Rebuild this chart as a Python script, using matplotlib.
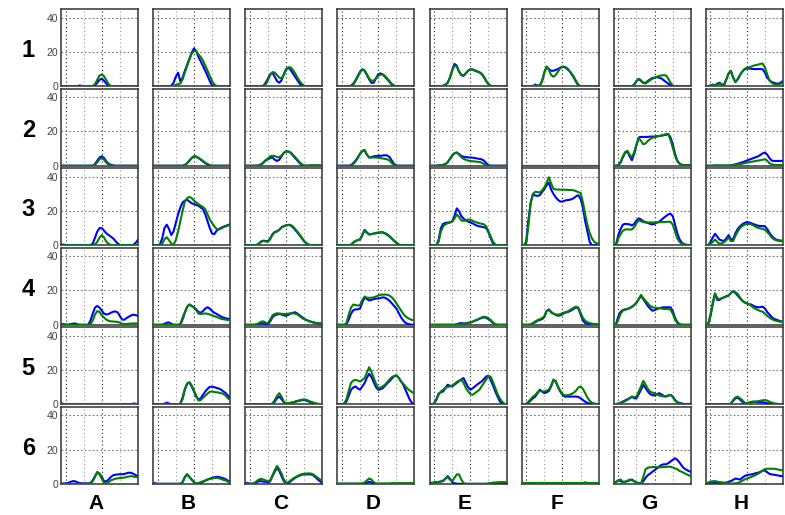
"""6 x 8 grid of blue/green profile panels (rows 1-6, columns A-H)."""
import numpy as np
import matplotlib
matplotlib.use("Agg")
import matplotlib.pyplot as plt

plt.rcParams.update({"font.family": ["Liberation Sans", "DejaVu Sans"]})

COLS = ["A", "B", "C", "D", "E", "F", "G", "H"]
ROWS = ["1", "2", "3", "4", "5", "6"]
YTICKS = [0, 20, 40]
# sample positions along each panel (35 samples, step 0.125)
X = np.arange(35) * 0.125 - 0.25

# ---- row 1 -------------------------------------------------------------
ROW1_BLUE = [
    [0, 0, 0, 0, 0, 0, 0, 0, 0.4, 0.3, 0, 0, 0, 0, 0, 0.5, 2, 3.8, 4.3, 3.2, 1.5, 0.3, 0, 0, 0, 0, 0, 0, 0, 0, 0, 0, 0, 0, 0],
    [0, 0, 0, 0, 0, 0, 0, 0, 0.3, 2, 5.5, 7.9, 2.8, 5, 9, 12.5, 16, 19.5, 22, 20.5, 17, 14.5, 11.8, 9, 6, 3, 0.5, 0, 0, 0, 0, 0, 0, 0, 0],
    [0, 0, 0, 0, 0, 0, 0, 0, 0.3, 2, 4.5, 7, 7.9, 5.5, 3, 2, 3.5, 7, 10, 10.8, 9.5, 7.5, 5.5, 3.5, 1.5, 0.3, 0, 0, 0, 0, 0, 0, 0, 0, 0],
    [0, 0, 0, 0, 0, 0, 0.3, 1.5, 3.5, 6, 8.5, 9.9, 9, 6.5, 4, 2, 2, 4.5, 7, 7.5, 6.8, 5.5, 4, 2.5, 1, 0.2, 0, 0, 0, 0, 0, 0, 0, 0, 0],
    [0, 0, 0, 0, 0, 0, 0.3, 1, 2, 5, 9.5, 13, 12, 8.5, 6.5, 6, 7.5, 9, 9.8, 9.8, 9.2, 8.7, 8.2, 7.2, 5.5, 3, 1.2, 0.2, 0, 0, 0, 0, 0, 0, 0],
    [0, 0, 0, 0, 0, 0, 1, 0.3, 0.3, 3, 8, 11.4, 10, 9, 9, 9.5, 10, 10.8, 11.4, 11.3, 10.5, 9, 7, 5, 2.5, 0.5, 0, 0, 0, 0, 0, 0, 0, 0, 0],
    [0, 0, 0, 0, 0, 0, 0, 0, 0, 1, 3, 4.3, 3, 2, 2, 3, 4, 4.8, 5, 5.3, 5, 4.5, 3.5, 2.5, 1.5, 0.7, 0.2, 0, 0, 0, 0, 0, 0, 0, 0],
    [0, 0, 0.5, 1, 0.5, 1.5, 2, 1, 0.8, 4, 7.5, 8.9, 5, 2.4, 4, 6.5, 8.5, 9.8, 10.3, 10.3, 10.2, 10, 10, 10, 10, 9.9, 8, 5, 3.5, 2.5, 2, 1.6, 1.5, 2.2, 3],
]
ROW1_GREEN = [
    [0, 0, 0, 0, 0, 0, 0, 0, 0, 0, 0, 0, 0, 0, 0.2, 1.2, 3.8, 6.2, 6.9, 5.8, 3.5, 1.2, 0.2, 0, 0, 0, 0, 0, 0, 0, 0, 0, 0, 0, 0],
    [0, 0, 0, 0, 0, 0, 0, 0, 0, 0.3, 0.8, 1.2, 1.6, 4, 8, 12, 15.5, 19, 20.5, 20.5, 18.5, 17, 15, 12, 9, 6, 3, 1, 0.2, 0, 0, 0, 0, 0, 0],
    [0, 0, 0, 0, 0, 0, 0, 0, 0, 1, 3.5, 6.5, 8.2, 8, 6.5, 5, 4.5, 6.5, 9.5, 11, 11, 9.5, 7.5, 5, 3, 1.3, 0.3, 0, 0, 0, 0, 0, 0, 0, 0],
    [0, 0, 0, 0, 0, 0, 0, 0.8, 3, 5.5, 8, 9.8, 9.2, 7, 4.5, 3.2, 3.3, 4.5, 6, 6.8, 6.9, 6, 4.5, 3, 1.3, 0.4, 0, 0, 0, 0, 0, 0, 0, 0, 0],
    [0, 0, 0, 0, 0, 0, 0.2, 0.8, 2, 5, 9, 12, 11.5, 8.5, 6.8, 6.3, 7.5, 9, 9.9, 9.6, 9, 8.5, 8, 7, 5.2, 3, 1.2, 0.2, 0, 0, 0, 0, 0, 0, 0],
    [0, 0, 0, 0, 0, 0, 0.5, 0.3, 0.5, 3, 8, 11.4, 9.5, 6.5, 5.5, 6.5, 8.5, 10.5, 11.2, 11, 10, 9, 7.5, 5.5, 3, 1, 0, 0, 0, 0, 0, 0, 0, 0, 0],
    [0, 0, 0, 0, 0, 0, 0, 0, 0, 0.8, 3, 4.3, 3.5, 1.8, 1.6, 2.5, 3.5, 4.3, 5, 5.5, 6, 6.3, 6.5, 6.3, 4.5, 2, 0.5, 0, 0, 0, 0, 0, 0, 0, 0],
    [0, 0, 0.3, 0.8, 0.5, 1, 1.5, 0.8, 0.8, 4, 7.5, 8.9, 5, 2.5, 4, 6.5, 8.5, 10, 10.8, 11, 11.5, 12, 12.3, 12.6, 13, 13.2, 11, 7, 3.5, 2, 1.2, 1, 1, 1.5, 2],
]

# ---- row 2 -------------------------------------------------------------
ROW2_BLUE = [
    [0, 0, 0, 0, 0, 0, 0, 0, 0, 0, 0, 0, 0, 0, 0, 1, 3, 4.8, 5.5, 4.5, 2.5, 1.2, 0.5, 0.2, 0, 0, 0, 0, 0, 0, 0, 0, 0, 0, 0],
    [0, 0, 0, 0, 0, 0, 0, 0, 0, 0, 0, 0, 0, 0, 0.5, 1.5, 3, 4.5, 5.5, 5.3, 4.5, 3.5, 2.5, 1.5, 0.7, 0.2, 0, 0, 0, 0, 0, 0, 0, 0, 0],
    [0, 0, 0, 0, 0, 0, 0.2, 0.8, 1.8, 3, 3.8, 4.5, 4.8, 3.5, 2.8, 3.5, 5.5, 7.5, 8.3, 8.3, 7.5, 6, 4.5, 3, 1.5, 0.5, 0, 0, 0, 0, 0, 0, 0, 0, 0],
    [0, 0, 0, 0, 0, 0, 0.3, 1.5, 3, 5, 7, 8.5, 9, 6.5, 4.8, 5, 5.5, 5.7, 5.7, 5.8, 6, 6.1, 6, 5, 3, 1, 0.2, 0, 0, 0, 0, 0, 0, 0, 0],
    [0, 0, 0, 0, 0.2, 0.3, 0.5, 1, 2, 4, 6, 7.3, 7.7, 6.8, 5.8, 5.2, 5, 4.9, 4.8, 4.7, 4.5, 4.2, 4, 3.7, 3, 1.5, 0.4, 0, 0, 0, 0, 0, 0, 0, 0],
    [0, 0, 0, 0, 0, 0, 0, 0, 0, 0, 0, 0, 0, 0, 0, 0, 0, 0, 0, 0, 0, 0, 0, 0, 0, 0, 0, 0, 0, 0, 0, 0, 0, 0, 0],
    [0, 0, 0.3, 2, 5, 7.5, 8.3, 5.5, 3.2, 7, 12, 16.5, 16.8, 16.8, 16.8, 16.8, 17, 17, 17, 17.2, 17.3, 17.5, 17.8, 18, 18.5, 16.5, 12.5, 7, 3, 1.2, 0.6, 0.4, 0.4, 0.4, 0.4],
    [0, 0, 0, 0, 0, 0, 0, 0, 0, 0, 0, 0.2, 0.5, 0.8, 1.2, 1.6, 2, 2.5, 3, 3.5, 4, 4.5, 5, 5.5, 6.3, 7.2, 7.7, 6.5, 4.5, 3, 2.8, 2.8, 2.8, 2.8, 2.8],
]
ROW2_GREEN = [
    [0, 0, 0, 0, 0, 0, 0, 0, 0, 0, 0, 0, 0, 0, 0, 0.5, 2, 3.8, 4.4, 3.5, 1.8, 0.6, 0.1, 0, 0, 0, 0, 0, 0, 0, 0, 0, 0, 0, 0],
    [0, 0, 0, 0, 0, 0, 0, 0, 0, 0, 0, 0, 0, 0, 0.3, 1.5, 3, 4.5, 5.5, 5.3, 4.6, 3.8, 2.8, 1.8, 1, 0.3, 0, 0, 0, 0, 0, 0, 0, 0, 0],
    [0, 0, 0, 0, 0, 0, 0.2, 0.8, 2, 3.3, 4.3, 5.5, 5.8, 5.7, 5, 5, 6, 7.5, 8.3, 8.3, 7.8, 6.5, 5, 3.5, 2, 0.8, 0.2, 0.1, 0.2, 0.3, 0.3, 0.3, 0.3, 0.3, 0.3],
    [0, 0, 0, 0, 0, 0, 0, 1, 2.5, 4.5, 7, 8.7, 9.3, 6.5, 4.8, 4.8, 4.8, 4.8, 4.7, 4.5, 4.2, 4, 3.7, 3, 1.5, 0.3, 0, 0, 0, 0, 0, 0, 0, 0, 0],
    [0, 0, 0, 0, 0.2, 0.3, 0.5, 1, 2, 4, 6, 7.3, 7.7, 6.5, 5, 4, 3.5, 3, 2.8, 2.6, 2.5, 2.3, 2.2, 1.8, 1, 0.3, 0, 0, 0, 0, 0, 0, 0, 0, 0],
    [0, 0, 0, 0, 0, 0, 0, 0, 0, 0, 0, 0, 0, 0, 0, 0, 0, 0, 0, 0, 0, 0, 0, 0, 0, 0, 0, 0, 0, 0, 0, 0, 0, 0, 0],
    [0, 0, 0.3, 2, 5.5, 8, 8.7, 6.5, 4.8, 8, 12.5, 16, 14.5, 12.5, 13, 14.5, 15.5, 16.3, 16.6, 17, 17.3, 17.6, 18, 18.5, 18.6, 15, 10.5, 6, 2.5, 1.2, 0.5, 0.3, 0.3, 0.3, 0.3],
    [0, 0, 0, 0, 0.3, 0.2, 0.2, 0.2, 0.2, 0.2, 0.2, 0.3, 0.4, 0.6, 0.8, 1, 1.2, 1.5, 1.8, 2, 2.3, 2.5, 2.8, 3, 3.2, 3.5, 3.8, 3, 1.5, 0.8, 0.5, 0.4, 0.4, 0.4, 0.4],
]

# ---- row 3 -------------------------------------------------------------
ROW3_BLUE = [
    [0.4, 0.4, 0.2, 0, 0, 0, 0, 0, 0, 0, 0, 0, 0, 0, 1, 4.5, 8, 10, 10, 8.5, 7, 6, 5, 4, 2.5, 1, 0.2, 0, 0, 0, 0, 0, 0.3, 1.5, 3.3],
    [0, 0, 0, 0.5, 4, 10, 12, 9.5, 6, 8, 13, 18, 22, 25, 26, 26.5, 25.5, 24.5, 24, 23.5, 23, 22, 21, 18, 14, 10, 6.8, 6.5, 8.5, 9.5, 10.2, 10.8, 11.3, 11.8, 12.2],
    [0, 0, 0, 0, 0, 0.2, 1, 2.2, 2.7, 2.5, 2.4, 4, 6.5, 7.8, 8.2, 9, 10.5, 11.2, 11.6, 11.8, 11.6, 10.5, 9, 7.5, 5.8, 4, 2.3, 1, 0.3, 0, 0, 0, 0, 0, 0],
    [0, 0, 0, 0, 0, 0, 0.3, 1.5, 2.5, 3, 3.3, 6, 9, 7.5, 6.3, 6.5, 6.8, 7, 7.2, 7.5, 7.6, 7, 6.3, 5.3, 4, 2.7, 1.5, 0.5, 0.1, 0, 0, 0, 0, 0, 0],
    [0, 0, 0, 0, 3, 10, 12.5, 13, 13.2, 13.4, 14, 17, 21.5, 20, 17, 15.5, 14.5, 13.8, 13.3, 12.8, 12, 11.4, 11, 10.8, 10.5, 10, 7.5, 4, 1, 0.2, 0, 0, 0, 0, 0],
    [0, 0, 2, 15, 25, 29.8, 29, 28.8, 29.2, 31, 32.7, 35, 36.5, 32.5, 30, 28, 26.5, 25.5, 25.5, 26, 26.3, 26.5, 26.8, 27.5, 28.5, 29.2, 27, 22, 14, 8, 2, 0, 0, 0, 0],
    [0, 0.5, 6, 9.5, 12, 12.5, 12.3, 12.2, 11.5, 12.5, 14.5, 15.7, 15, 14, 13.5, 13, 12.5, 12.2, 12.5, 13.2, 13.8, 14.8, 16, 17, 18, 18.4, 17, 12, 7, 3.5, 1.5, 0.6, 0.3, 0.2, 0],
    [0, 0, 2, 4.5, 6.7, 5, 3.3, 2.8, 2.5, 4, 5.9, 3.5, 3.5, 7, 9.5, 11, 12.2, 13, 13.5, 13.3, 12.8, 12.3, 11.8, 11.4, 11.2, 11.2, 11, 9.5, 7.3, 5.5, 4.2, 3.3, 2.9, 2.7, 2.7],
]
ROW3_GREEN = [
    [0, 0, 0, 0, 0, 0, 0, 0, 0, 0, 0, 0, 0, 0, 0, 0.5, 2, 4.5, 5.9, 4.5, 2, 0.8, 0.2, 0, 0, 0, 0, 0, 0, 0, 0, 0, 0, 0, 0],
    [0, 0, 0, 0, 1, 3.5, 4.7, 3, 1, 0.4, 3, 8, 14, 20, 25.5, 27.5, 28.2, 27.5, 26, 25, 24, 23, 22.3, 21, 18, 15, 13, 11, 9.5, 9.2, 9.8, 10.5, 11, 11.5, 11.6],
    [0, 0, 0, 0, 0, 0.2, 0.8, 2, 2.5, 2.2, 2, 3.5, 6, 7.5, 8, 9, 10.3, 11, 11.6, 12, 11.8, 11, 9.5, 8, 6.2, 4.3, 2.5, 1.2, 0.4, 0, 0, 0, 0, 0, 0],
    [0, 0, 0, 0, 0, 0, 0.3, 1.5, 2.5, 3, 3.5, 6, 8.6, 7.2, 6.3, 6.5, 6.8, 7.2, 7.5, 7.6, 7.4, 6.8, 6, 5, 3.8, 2.5, 1.3, 0.4, 0, 0, 0, 0, 0, 0, 0],
    [0, 0, 0, 0, 2, 8, 11, 12.2, 12.8, 13.2, 13.8, 15.5, 18, 16.5, 14.5, 14.2, 14.5, 15, 14.8, 14.3, 13.7, 13.2, 12.8, 12.5, 12.2, 11, 8, 5, 2, 0.4, 0, 0, 0, 0, 0],
    [0, 0, 1, 12, 25, 30, 31.2, 31, 30.8, 32, 33.7, 36.5, 39.6, 36, 33, 32.5, 32.5, 32.4, 32.4, 32.4, 32.3, 32.2, 32.2, 32, 31.5, 31, 30.5, 25, 18, 12, 7, 4, 2, 1.2, 0.8],
    [0, 0.3, 4, 6.5, 8.5, 9.2, 9.3, 9.2, 9.2, 10.5, 13, 14.5, 14, 13.5, 13.3, 13.3, 13.3, 13.3, 13.3, 13.4, 13.4, 13.5, 13.5, 13.6, 13.7, 13.7, 12, 8, 4, 2, 0.8, 0.3, 0, 0, 0],
    [0, 0, 0.8, 2, 3.3, 2, 0.8, 1.2, 1.8, 3, 4.5, 2.5, 2.5, 5.5, 8, 10, 11.2, 12, 12.5, 12.4, 12.2, 11.5, 10.7, 10.2, 9.8, 9.5, 9, 7.8, 6.3, 4.5, 3.5, 2.9, 2.6, 2.4, 2.4],
]

# ---- row 4 -------------------------------------------------------------
ROW4_BLUE = [
    [0.2, 0.4, 0.2, 0, 0.3, 0.6, 0.8, 0.4, 0, 0, 0, 0, 0, 2.5, 6.5, 10, 11, 10, 8.2, 6.5, 6, 6.3, 7, 7.6, 7.8, 7.2, 5, 3, 3, 4, 4.8, 5.5, 5.9, 5.6, 5.3],
    [0, 0, 0, 0, 0, 0.5, 1.2, 1.4, 0.5, 0, 0, 0, 0.3, 4, 7.3, 10.5, 11.8, 11, 10.2, 9, 7.5, 7, 8, 9.5, 10.2, 9.5, 8, 7, 6.3, 5.5, 4.8, 4.2, 3.8, 3.5, 3.3],
    [0, 0, 0, 0, 0, 0.2, 0.5, 0.8, 0.8, 0.5, 0.3, 2, 4.5, 5.5, 6, 6.3, 6, 5.5, 5.3, 5.8, 6.5, 7, 7.3, 6.5, 5.5, 4.5, 3.5, 2.8, 2.2, 1.8, 1.4, 1.1, 0.9, 0.8, 0.7],
    [0, 0, 0, 0, 0.3, 3, 6.5, 8.5, 9, 9, 9.5, 13, 16, 15, 14.2, 14.5, 15, 15.2, 15.3, 15.6, 16, 15.8, 15, 14, 12.5, 11, 9.5, 7, 4.5, 2.5, 1.2, 0.5, 0.2, 0, 0],
    [0, 0, 0, 0, 0, 0, 0, 0, 0, 0, 0, 0, 0.2, 0.8, 1, 0.8, 0.8, 1.2, 1.4, 1.8, 2.3, 2.8, 3.5, 4, 4.3, 4, 3.3, 2.4, 1, 0.2, 0, 0, 0, 0, 0],
    [0, 0, 0, 0, 0.2, 0.8, 1.5, 2.4, 2.8, 3.3, 4.5, 8, 9, 7.5, 6.5, 5.8, 5.3, 5.5, 6.2, 7, 7.3, 7.8, 8.5, 9.3, 10.2, 9.5, 6, 2.5, 1, 0.5, 0.4, 0.4, 0.4, 0.4, 0.4],
    [0, 0.5, 5, 7.5, 8.6, 9, 9.2, 9.8, 10.6, 11.5, 13, 15, 17, 15, 13, 11, 9.5, 8.2, 8.5, 9.2, 9.6, 10, 10.2, 10.2, 10.2, 10.2, 8, 4, 1.5, 0.4, 0, 0, 0, 0, 0],
    [0, 0.5, 5, 12, 18, 14.5, 14.5, 15.5, 16, 16.5, 17, 18.5, 19.6, 18.5, 17, 15.5, 14, 13, 12.5, 12, 11.8, 11, 10.5, 10.2, 10.3, 10.6, 9.5, 7.5, 6, 4.5, 3.5, 3, 2.5, 2, 1.8],
]
ROW4_GREEN = [
    [0, 0, 0, 0, 0, 0, 0, 0, 0, 0, 0, 0, 0, 0.3, 2.5, 6, 8, 7.5, 5.5, 4.2, 3, 2.3, 2, 1.9, 1.8, 1.7, 1.2, 0.6, 0.4, 0.5, 0.6, 0.7, 0.8, 0.8, 0.8],
    [0, 0, 0, 0, 0, 0, 0, 0, 0, 0, 0, 0, 0.2, 3, 7, 10.5, 11.8, 11, 10, 8.5, 6.5, 6.3, 6.5, 6.6, 6.4, 6, 5.5, 5, 4.5, 4, 3.5, 3.2, 3, 2.8, 2.7],
    [0, 0, 0, 0, 0, 0.3, 1, 1.8, 2, 1.2, 0.8, 3, 5.5, 6.3, 6.7, 6.6, 6.4, 6.3, 6.3, 6.5, 6.7, 6.7, 6.5, 6, 5, 4, 3.3, 2.7, 2.2, 1.8, 1.4, 1.1, 0.9, 0.8, 0.7],
    [0, 0, 0, 0, 1, 6, 10, 11.8, 11.5, 11.2, 11.5, 14.5, 16.5, 15.8, 15.7, 15.8, 16, 16.5, 17, 17.5, 17.6, 17.6, 17.5, 17, 16, 14.5, 12.5, 10.5, 8.5, 6.5, 5, 4, 3.3, 2.8, 2.7],
    [0, 0, 0, 0, 0, 0, 0, 0, 0, 0, 0, 0, 0.2, 0.4, 0.5, 0.6, 0.7, 0.9, 1.2, 1.8, 2.5, 3, 3.7, 4.3, 4.7, 4.5, 3.8, 2.8, 1.3, 0.3, 0, 0, 0, 0, 0],
    [0, 0, 0, 0, 0.3, 1, 2, 2.7, 3.3, 3.9, 5, 8, 8.6, 7.2, 6.5, 6.1, 5.9, 6.2, 6.8, 7.3, 7.6, 8.3, 9.2, 10, 10.6, 10, 7, 4, 2.4, 1.5, 1, 0.7, 0.4, 0.4, 0.4],
    [0, 0.3, 3, 6.5, 8.3, 8.8, 9.2, 9.7, 10.4, 11.5, 12.8, 15, 17.4, 15.5, 14, 12.5, 11, 10.2, 10, 9.8, 9.8, 9.5, 9.2, 9.2, 9.2, 8.8, 6.5, 3, 1, 0.3, 0, 0, 0, 0, 0],
    [0, 0.5, 6, 13, 18.4, 15.5, 15, 15.5, 16, 16.8, 17.2, 18.5, 19.5, 19, 18, 16, 14.2, 13.2, 12.5, 12, 11, 10, 9.2, 8.6, 8, 7.6, 6.5, 5.3, 4.2, 3.3, 2.7, 2.3, 2, 1.8, 1.6],
]

# ---- row 5 -------------------------------------------------------------
ROW5_BLUE = [
    [0.5, 0.3, 0, 0, 0, 0, 0, 0, 0, 0, 0, 0, 0, 0, 0, 0, 0, 0, 0.3, 0, 0, 0, 0, 0, 0, 0, 0, 0, 0, 0, 0, 0, 0.5, 0.3, 0],
    [0, 0, 0, 0, 0, 0.3, 1, 0.5, 0, 0, 0, 0, 0.5, 4, 9, 12, 12.7, 10.5, 7.5, 4.5, 2.8, 3.5, 5.5, 7.5, 9, 10.2, 10.3, 10, 9.5, 9.2, 8.5, 7.5, 6.5, 5, 3.5],
    [0, 0, 0, 0, 0, 0, 0, 0, 0, 0, 0, 0, 0.3, 1.5, 3.5, 4.5, 3, 1.2, 0.6, 0.6, 0.8, 1.1, 1.5, 1.8, 2.1, 2.4, 2.5, 2.1, 1.6, 1.1, 0.7, 0.4, 0.2, 0.1, 0],
    [0, 0, 0, 0.5, 1.6, 5, 8.5, 9.8, 10.4, 9.2, 8.5, 10.5, 12.4, 15.5, 17.8, 16, 13, 10, 8.5, 8.8, 9.4, 10.8, 12.3, 13.5, 15, 16.3, 16.9, 15.5, 13.5, 11.5, 8.5, 5.5, 2.5, 0.6, 0],
    [0, 0, 0.5, 3, 6.3, 7, 7.5, 9.5, 11.4, 10.8, 10.4, 11.5, 12.4, 13.5, 14.5, 15.3, 12.5, 10, 8.5, 9.3, 10.4, 11.5, 12.5, 13.3, 14.8, 16.2, 16.7, 14, 11, 7.5, 4.5, 1.8, 0.4, 0, 0],
    [0, 0, 0.3, 1, 2.3, 3.5, 4.5, 6.5, 8.5, 7.5, 6.5, 7, 7.8, 10.5, 14, 13.5, 10, 7.5, 5.5, 4.5, 4.5, 4.5, 4.5, 4.5, 4.5, 4.3, 3.5, 2.5, 1.5, 0.8, 0.4, 0.2, 0.2, 0.2, 0.2],
    [0, 0.2, 0.4, 1, 1.6, 2.3, 3, 3.6, 4.5, 3.5, 3.5, 6, 8.5, 11.4, 9.5, 7.5, 6, 5.3, 5.2, 5.8, 6.5, 5.8, 4.8, 4.5, 5, 5.5, 4.5, 2.5, 1.3, 0.8, 0.5, 0.2, 0.2, 0.2, 0.2],
    [0, 0, 0, 0, 0, 0, 0, 0, 0, 0, 0, 0.5, 2, 3.5, 3.8, 2.8, 1.5, 0.6, 0.6, 1, 1.4, 1.6, 1.5, 1.3, 1.2, 1.2, 1, 0.6, 0.4, 0.3, 0.2, 0.1, 0.1, 0.1, 0.1],
]
ROW5_GREEN = [
    [0, 0, 0, 0, 0, 0, 0, 0, 0, 0, 0, 0, 0, 0, 0, 0, 0, 0, 0, 0, 0, 0, 0, 0, 0, 0, 0, 0, 0, 0, 0, 0, 0, 0, 0],
    [0, 0, 0, 0, 0, 0, 0, 0, 0, 0, 0, 0, 0.3, 3, 8.5, 12, 12.9, 11, 8, 5, 2.2, 2.5, 3.8, 5, 6.3, 7.3, 7.5, 7.2, 7, 6.8, 6.5, 6, 5, 3.5, 2.5],
    [0, 0, 0, 0, 0, 0, 0, 0, 0, 0, 0, 0, 0.5, 2.5, 5, 6.5, 4.5, 1.5, 0.6, 0.7, 0.9, 1.2, 1.6, 2, 2.4, 2.7, 2.9, 2.6, 2, 1.5, 1, 0.6, 0.3, 0.2, 0],
    [0, 0, 0, 0.5, 3, 8, 12.5, 13.8, 14.3, 13.8, 13.3, 14.3, 15.3, 18.5, 21.6, 19, 15.5, 12, 9.4, 9.8, 10.4, 11.5, 13, 14.5, 15.8, 16.5, 16.9, 15.5, 13.5, 12, 10.5, 9, 8, 7, 6.5],
    [0, 0, 0.3, 2.5, 5.5, 7.5, 8.5, 9.5, 10.2, 10.4, 11, 12, 13, 13.8, 14.3, 12.5, 9.6, 7.5, 6, 5.5, 6.5, 7.5, 8.5, 10.5, 12.5, 14.5, 16.5, 16, 13, 9.5, 6, 3.5, 1.5, 0.4, 0],
    [0, 0, 0.3, 1.5, 3, 4.5, 5.5, 7, 7.8, 7.5, 7.5, 8, 8.5, 11, 14.5, 13.5, 10.5, 8, 6, 5.2, 5.3, 5.5, 6, 6.8, 8, 9.8, 10.4, 9, 6.5, 4, 2, 1, 0.5, 0.2, 0],
    [0, 0.2, 0.4, 0.8, 1.3, 1.8, 2.6, 3.5, 4.5, 4.2, 4.5, 7.5, 10.5, 13.7, 11.5, 9, 7.5, 6.8, 6.5, 5.8, 5.1, 4.8, 4.6, 4.8, 5.2, 5.5, 4.3, 2.2, 1, 0.4, 0, 0, 0, 0, 0],
    [0, 0, 0, 0, 0, 0, 0, 0, 0, 0, 0, 0.5, 2.5, 4, 4.5, 3.5, 2.5, 1, 0.6, 0.8, 1.1, 1.4, 1.6, 1.8, 2.1, 2.3, 2.5, 2.2, 1.5, 1, 0.6, 0.4, 0.2, 0.2, 0.2],
]

# ---- row 6 -------------------------------------------------------------
ROW6_BLUE = [
    [0, 0.2, 0.3, 0.5, 1, 1.5, 1.6, 1, 0.5, 0.3, 0.3, 0.3, 0.2, 0.5, 2, 4.5, 6.8, 6, 4, 1.5, 1.5, 2.5, 4, 5, 5.3, 5.5, 5.6, 5.6, 5.8, 6.2, 6.5, 6.4, 5.8, 5, 4.5],
    [0.4, 0.3, 0, 0, 0, 0, 0, 0, 0, 0, 0, 0, 0, 1, 4, 5.5, 4, 2.5, 1, 0.2, 0.3, 0.6, 1.2, 1.8, 2.5, 3, 3.5, 3.8, 4.1, 4, 3.6, 3.2, 2.7, 1.8, 1.2],
    [0.6, 0.4, 0.2, 0.1, 0.2, 0.8, 1.6, 1.5, 1.3, 1.2, 0.8, 1.5, 4.5, 7, 9.4, 7.5, 4.5, 1.5, 0.2, 0.5, 1.5, 2.5, 3.5, 4.2, 4.8, 5.3, 5.5, 5.5, 5.5, 5.5, 5, 3.8, 2.5, 1.5, 0.5],
    [0, 0, 0, 0, 0, 0, 0, 0, 0, 0, 0, 0, 0.2, 0.6, 1.2, 0.8, 0.2, 0, 0, 0, 0, 0, 0, 0, 0, 0, 0, 0, 0, 0, 0, 0, 0, 0, 0],
    [0.5, 0.6, 0.8, 1, 1.1, 1.3, 1.6, 3, 4.5, 3, 1, 0.3, 0.1, 0, 0, 0, 0, 0, 0, 0, 0, 0, 0, 0, 0, 0, 0, 0, 0, 0, 0, 0, 0, 0, 0],
    [0, 0, 0, 0, 0, 0, 0, 0, 0.3, 0.6, 0.3, 0, 0, 0, 0, 0, 0, 0, 0.2, 0.2, 0.2, 0, 0, 0, 0, 0, 0, 0.4, 0.8, 0.5, 0, 0, 0, 0, 0],
    [0.6, 1.2, 2, 1.5, 1, 1.3, 1.6, 2, 2.5, 1.5, 0.8, 0.4, 0.3, 1.5, 3.5, 5, 6, 7, 8, 9, 10, 11, 11.4, 11.4, 12, 13, 14, 14.9, 14, 12.4, 10.5, 9, 8.2, 7.5, 7],
    [0.2, 0.4, 0.6, 0.8, 0.8, 0.7, 0.6, 0.6, 0.6, 0.7, 1.2, 1.6, 2.3, 3.1, 2.8, 2.5, 3.5, 4.5, 5.1, 5.3, 5.5, 5.8, 6.2, 6.5, 7, 7.6, 7.8, 6.8, 5.8, 5.5, 5.3, 5.1, 4.8, 4.6, 4.5],
]
ROW6_GREEN = [
    [0, 0, 0, 0, 0, 0, 0, 0, 0, 0, 0, 0, 0, 0.2, 1.5, 4, 6.8, 5.5, 3, 0.5, 0.3, 1, 2, 2.5, 3, 3.2, 3.4, 3.5, 3.7, 4, 4.3, 4.5, 4.2, 4, 3.9],
    [0, 0, 0, 0, 0, 0, 0, 0, 0, 0, 0, 0, 0, 1, 4, 5.5, 4, 2.5, 1, 0.2, 0.5, 1, 1.5, 2, 2.5, 2.8, 3.1, 3.4, 3.5, 3.3, 2.8, 2.3, 2, 1.2, 0.6],
    [0, 0, 0, 0, 0.5, 1.6, 2.5, 2.9, 2.5, 2, 1.5, 2, 5, 8, 10.4, 8.5, 6, 2.5, 0.5, 1, 2, 3, 3.8, 4.5, 5.2, 5.7, 5.9, 6, 6.1, 6, 5.5, 4.5, 3.5, 2.5, 1.6],
    [0.2, 0.2, 0.2, 0.2, 0.2, 0.2, 0.2, 0.2, 0.2, 0.2, 0.2, 0.3, 0.8, 2, 3.1, 2.5, 1, 0.2, 0.2, 0.2, 0.2, 0.2, 0.2, 0.2, 0.4, 0.4, 0.4, 0.4, 0.4, 0.4, 0.4, 0.4, 0.4, 0.4, 0.4],
    [0.3, 0.3, 0.5, 0.7, 1, 1.5, 2, 3, 3.9, 2.5, 1.6, 3.5, 5.5, 5.5, 2.5, 0.5, 0, 0, 0, 0, 0, 0, 0, 0, 0, 0, 0.3, 0.5, 0.7, 0.8, 0.9, 1, 1, 1, 1],
    [0.2, 0.2, 0.2, 0.2, 0.2, 0.2, 0.2, 0.2, 0.2, 0.2, 0.2, 0.2, 0.2, 0.2, 0.2, 0.2, 0.2, 0.2, 0.2, 0.2, 0.2, 0.2, 0.2, 0.2, 0.2, 0.2, 0.2, 0.2, 0.2, 0.2, 0.2, 0.2, 0.2, 0.2, 0.2],
    [0.3, 1, 2, 2.5, 1.2, 1, 1.8, 2.5, 2, 1.5, 0.8, 0.2, 0.2, 4, 8.5, 9.4, 9.6, 9.8, 9.8, 9.7, 9.6, 9.7, 9.8, 9.9, 10, 10, 9.5, 9, 8.5, 7.5, 7, 6.3, 5.6, 5, 4.5],
    [0.5, 0.8, 1.2, 1.5, 1.6, 1.3, 1, 0.8, 0.6, 0.4, 0.3, 0.2, 0.2, 0.3, 0.5, 1, 1.8, 2.5, 3, 3.5, 4, 4.6, 5.2, 5.9, 6.8, 7.8, 8.5, 8.8, 8.8, 8.8, 8.8, 8.6, 8.3, 8, 7.8],
]

BLUE = [ROW1_BLUE, ROW2_BLUE, ROW3_BLUE, ROW4_BLUE, ROW5_BLUE, ROW6_BLUE]
GREEN = [ROW1_GREEN, ROW2_GREEN, ROW3_GREEN, ROW4_GREEN, ROW5_GREEN, ROW6_GREEN]


def panel(ax, blue, green, first_col):
    # matlab-ish dotted grid: x=0,2 dark, x=1,3 light
    for xv, c in ((0, "#222222"), (1, "#999999"), (2, "#222222"), (3, "#999999")):
        ax.axvline(xv, color=c, lw=0.8, ls=(0, (1, 2.5)), zorder=1)
    for yv in (20, 40):
        ax.axhline(yv, color="#777777", lw=0.8, ls=(0, (1.5, 2)), zorder=1)
    ax.plot(X, blue, color="#0000ff", lw=1.5, zorder=3)
    ax.plot(X, green, color="#008000", lw=1.5, zorder=4)
    ax.set_xlim(-0.25, 4.0)
    ax.set_ylim(0, 45)
    ax.set_xticks([])
    ax.set_yticks(YTICKS)
    ax.tick_params(axis="y", length=0, pad=2, labelsize=7.5, labelcolor="#444444")
    if not first_col:
        ax.set_yticklabels([])
    for s in ax.spines.values():
        s.set_color("#333333")
        s.set_linewidth(1.1)


def main():
    fig = plt.figure(figsize=(7.85, 5.15), dpi=100)
    gs = fig.add_gridspec(6, 8, left=0.0777, right=0.9975, top=0.9825,
                          bottom=0.0605, wspace=0.195, hspace=0.03)
    for r in range(6):
        for c in range(8):
            ax = fig.add_subplot(gs[r, c])
            b, g = BLUE[r][c], GREEN[r][c]
            if len(b) != len(X) or len(g) != len(X):
                raise ValueError(f"bad length row {r+1} col {COLS[c]}: {len(b)} {len(g)}")
            panel(ax, b, g, c == 0)
            if c == 0:
                pos = ax.get_position()
                fig.text(0.036, (pos.y0 + pos.y1) / 2 - 0.006, ROWS[r],
                         ha="center", va="center", fontsize=17, fontweight="bold")
            if r == 5:
                pos = ax.get_position()
                fig.text((pos.x0 + pos.x1) / 2 - 0.004, 0.022, COLS[c],
                         ha="center", va="center", fontsize=15, fontweight="bold")
    fig.savefig("out.png", dpi=100)


if __name__ == "__main__":
    main()
